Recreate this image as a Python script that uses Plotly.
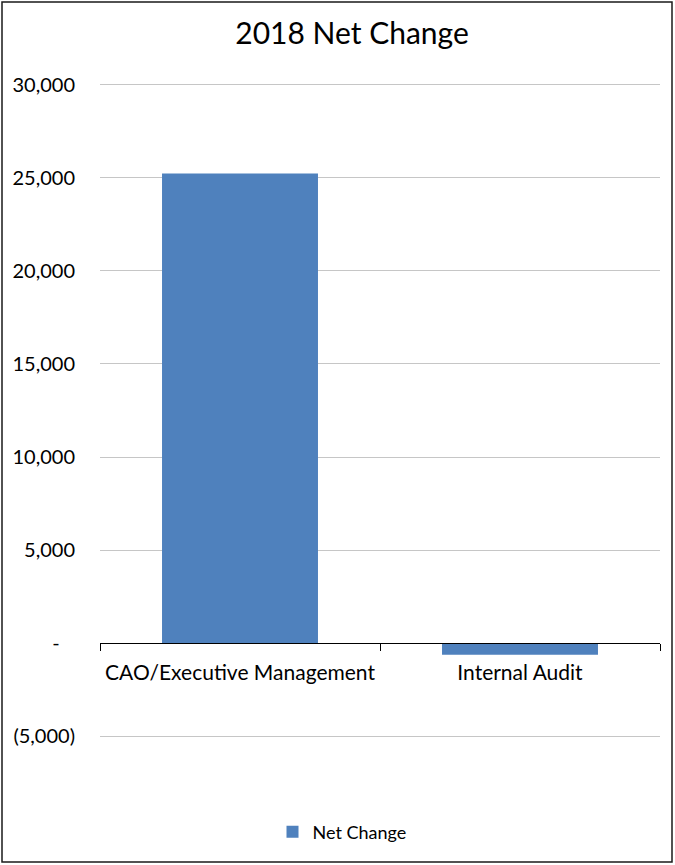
import plotly.graph_objects as go

categories = ["CAO/Executive Management", "Internal Audit"]
net_change = [25230, -620]
series_name = "Net Change"

tick_vals = [-5000, 0, 5000, 10000, 15000, 20000, 25000, 30000]
tick_text = ["(5,000)", "-\u00a0\u00a0\u00a0", "5,000", "10,000", "15,000", "20,000", "25,000", "30,000"]
y_range = [-5100, 30100]

FONT = "Lato, Carlito, 'Open Sans', sans-serif"
BAR_COLOR = "#4F81BD"

W, H = 675, 865
ML, MR, MT, MB = 100, 15, 83, 127

fig = go.Figure()
fig.add_trace(go.Bar(
    x=categories, y=net_change, name=series_name,
    marker=dict(color=BAR_COLOR, line=dict(width=0)),
    showlegend=True,
))

zero_pos = (0 - y_range[0]) / (y_range[1] - y_range[0])
plot_w = W - ML - MR
plot_h = H - MT - MB

fig.update_layout(
    width=W, height=H,
    margin=dict(l=ML, r=MR, t=MT, b=MB, autoexpand=False),
    paper_bgcolor="white", plot_bgcolor="white",
    font=dict(family=FONT, color="#000000"),
    bargap=0.443,
    title=dict(text="2018 Net Change", x=352 / W, xref="container", xanchor="center",
               y=1 - 33 / H, yref="container", yanchor="middle",
               font=dict(size=30, family=FONT, color="#000000")),
    xaxis=dict(
        anchor="free", position=zero_pos,
        showline=True, linecolor="#000000", linewidth=1.3,
        ticks="outside", tickson="boundaries", ticklen=7, tickcolor="#000000", tickwidth=1.3,
        showgrid=False, zeroline=False,
        tickfont=dict(size=21, family=FONT, color="#000000"),
        ticklabelstandoff=11, tickangle=0,
    ),
    yaxis=dict(
        range=y_range, tickvals=tick_vals, ticktext=tick_text,
        showgrid=True, gridcolor="#C6C6C6", gridwidth=1.2,
        zeroline=False, showline=False, ticks="",
        tickfont=dict(size=20, family=FONT, color="#000000"),
        ticklabelstandoff=24,
    ),
    legend=dict(orientation="h", x=(342 - ML) / plot_w, xanchor="center",
                y=-(832 - (MT + plot_h)) / plot_h, yanchor="middle",
                font=dict(size=18, family=FONT, color="#000000"),
                itemwidth=30),
    shapes=[dict(type="rect", xref="paper", yref="paper",
                 x0=(2 - ML) / plot_w, x1=(672 - ML) / plot_w,
                 y0=(H - MB - 862) / plot_h, y1=(H - MB - 2) / plot_h,
                 line=dict(color="#1a1a1a", width=1.5), fillcolor="rgba(0,0,0,0)", layer="below")],
)

fig.write_html("out.html")
